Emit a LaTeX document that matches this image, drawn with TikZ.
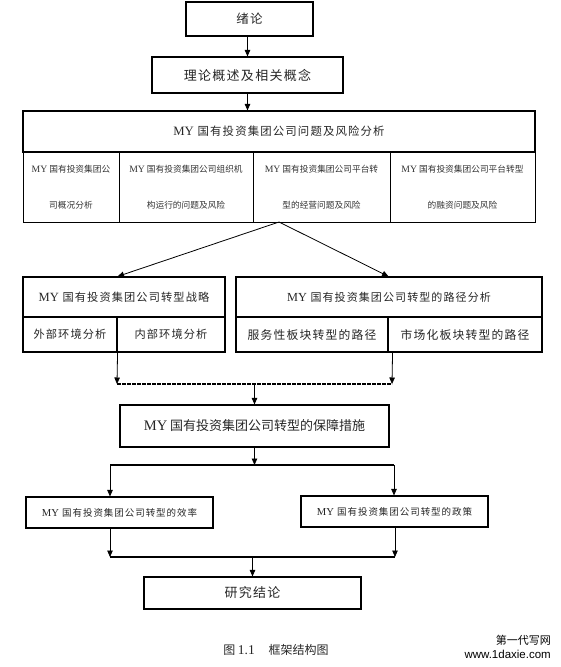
\documentclass[tikz,border=0pt]{standalone}
\usepackage{fontspec}
\usetikzlibrary{arrows.meta}
\setmainfont{Liberation Serif}
\newfontfamily\cjk[LetterSpace=10]{Noto Sans CJK SC}
\newfontfamily\cjkt{Noto Sans CJK SC}
\newfontfamily\lat[Scale=1.12]{Liberation Serif}
\newfontfamily\wmfont{Liberation Sans}
\newcommand\fs[1]{\fontsize{#1}{#1}\selectfont}
\newcommand\Bxx[7]{\node[#6, minimum width={#4-#2}, minimum height={#5-#3}] (#1) at ({(#2+#4)/2},{(#3+#5)/2}) {#7};}
\tikzset{
  bxs/.style={draw, line width=1.1pt, inner sep=0pt, text=black!85},
  subbx/.style={draw, line width=0.8pt, inner sep=0pt, text=black!80, align=center},
  arr/.style={line width=0.8pt, -{Triangle[width=5.5pt,length=6.5pt]}},
  bar/.style={line width=1.6pt},
  dbar/.style={line width=1.4pt, dash pattern=on 4pt off 1pt},
}
\begin{document}
\begin{tikzpicture}[x=1pt,y=-1pt]
\useasboundingbox (0,0) rectangle (561,667);
% top boxes
\Bxx{n1}{186}{2}{313}{36}{bxs,font=\cjk\fs{12.5}}{绪论}
\Bxx{n2}{152}{57}{343}{93}{bxs,font=\cjk\fs{13}}{理论概述及相关概念}
% big problem box
\Bxx{h}{23}{111}{535}{152}{bxs,font=\cjk\fs{11.4}}{{\lat MY} 国有投资集团公司问题及风险分析}
\Bxx{s1}{23}{152}{119}{222}{subbx,font=\cjkt\fontsize{8.7}{36}\selectfont}{{\lat MY} 国有投资集团公\\司概况分析}
\Bxx{s2}{119}{152}{253}{222}{subbx,font=\cjkt\fontsize{8.7}{36}\selectfont}{{\lat MY} 国有投资集团公司组织机\\构运行的问题及风险}
\Bxx{s3}{253}{152}{390}{222}{subbx,font=\cjkt\fontsize{8.7}{36}\selectfont}{{\lat MY} 国有投资集团公司平台转\\型的经营问题及风险}
\Bxx{s4}{390}{152}{535}{222}{subbx,font=\cjkt\fontsize{8.7}{36}\selectfont}{{\lat MY} 国有投资集团公司平台转型\\的融资问题及风险}
% strategy group
\Bxx{LH}{23}{277}{225}{317}{bxs,font=\cjk\fs{11.2}}{{\lat MY} 国有投资集团公司转型战略}
\Bxx{LA}{23}{317}{117}{352}{bxs,font=\cjk\fs{11.2}}{外部环境分析}
\Bxx{LB}{117}{317}{225}{352}{bxs,font=\cjk\fs{11.2}}{内部环境分析}
% path group
\Bxx{RH}{236}{277}{542}{317}{bxs,font=\cjk\fs{11}}{{\lat MY} 国有投资集团公司转型的路径分析}
\Bxx{RA}{236}{317}{388}{352}{bxs,font=\cjk\fs{11.8}}{服务性板块转型的路径}
\Bxx{RB}{388}{317}{542}{352}{bxs,font=\cjk\fs{11.8}}{市场化板块转型的路径}
% guarantee
\Bxx{P}{120}{405}{389}{447}{bxs,font=\cjkt\fs{13}}{{\lat MY} 国有投资集团公司转型的保障措施}
\Bxx{E}{26}{497}{213}{528}{bxs,font=\cjk\fs{9.5}}{{\lat MY} 国有投资集团公司转型的效率}
\Bxx{F}{301}{496}{488}{527}{bxs,font=\cjk\fs{9.5}}{{\lat MY} 国有投资集团公司转型的政策}
\Bxx{C}{144}{577}{361}{609}{bxs,font=\cjk\fs{13}}{研究结论}
% connectors
\draw[arr] (n2.north |- n1.south) -- (n2.north);
\draw[arr] (n2.south) -- (h.north -| n2.south);
\coordinate (ap) at (279,222);
\draw[arr] (ap) -- (LH.north -| LA.east);
\draw[arr] (ap) -- (RH.north -| RA.east);
\coordinate (j1l) at (117,384);
\coordinate (j1r) at (392,384);
\draw[arr] (LA.south east) -- (j1l);
\draw[arr] ([xshift=4pt]RA.south east) -- (j1r);
\draw[dbar] (j1l) -- (j1r);
\draw[arr] (j1l -| P.north) -- (P.north);
\coordinate (j2l) at (110,465);
\coordinate (j2r) at (394,465);
\draw[arr] (P.south) -- (P.south |- j2l);
\draw[bar] (j2l) -- (j2r);
\draw[arr] (j2l) -- (j2l |- E.north);
\draw[arr] (j2r) -- (j2r |- F.north);
\coordinate (j3l) at (110,557);
\coordinate (j3r) at (395,557);
\draw[arr] (E.south -| j3l) -- (j3l);
\draw[arr] (F.south -| j3r) -- (j3r);
\draw[bar] (j3l) -- (j3r);
\draw[arr] (C.north |- j3l) -- (C.north);
% caption and mark
\node[font=\cjkt\fs{12}, text=black!85] (cap) at (276,650) {图 {\lat 1.1}\hspace{14pt}框架结构图};
\node[anchor=east, inner sep=0pt, font=\cjkt\fs{11}] (wm1) at (551,640) {第一代写网};
\node[anchor=east, inner sep=0pt, font=\wmfont\fs{11.5}] (wm2) at (551,654) {www.1daxie.com};
\end{tikzpicture}
\end{document}
